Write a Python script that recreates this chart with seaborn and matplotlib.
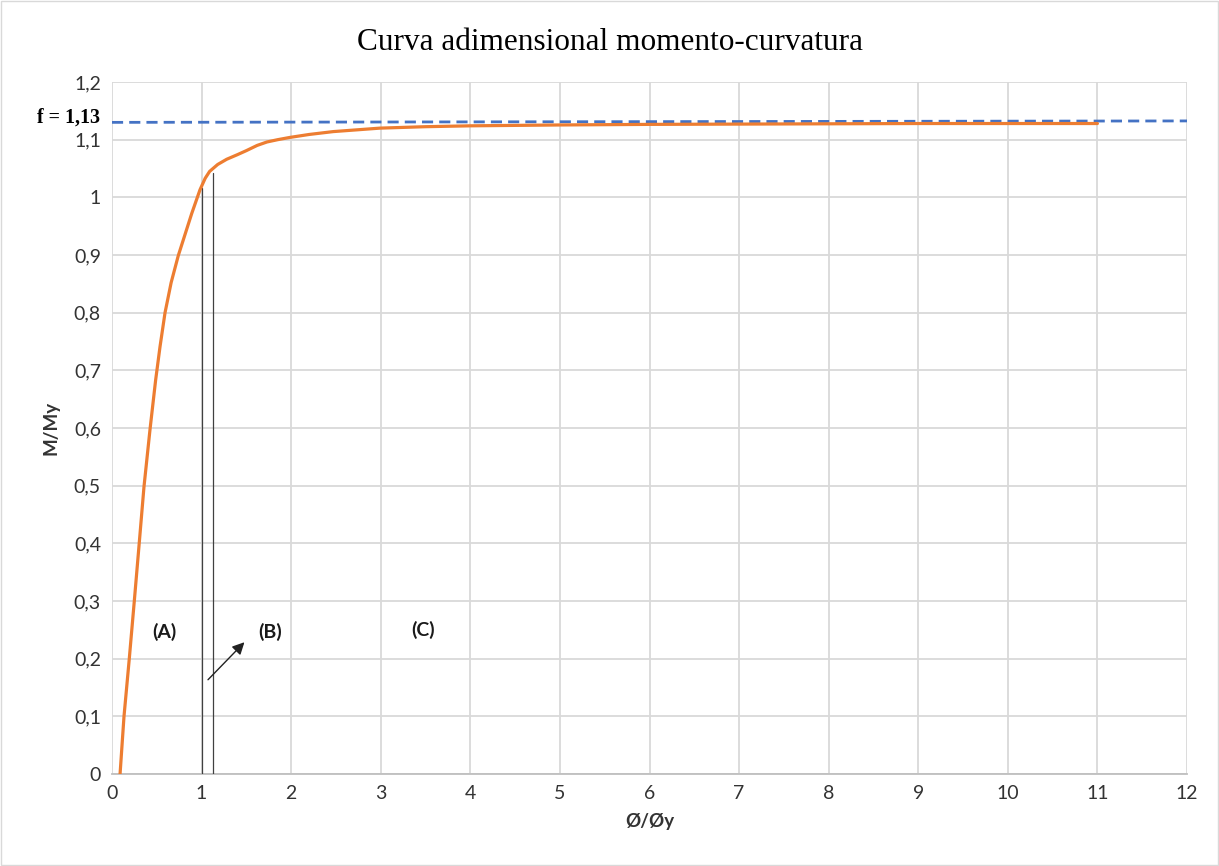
import matplotlib
matplotlib.use("Agg")
import matplotlib.pyplot as plt
import seaborn as sns
import pandas as pd
from matplotlib.ticker import MultipleLocator, FuncFormatter

# Data
phi = [0.09, 0.134, 0.193, 0.249, 0.30, 0.357, 0.424, 0.487, 0.536, 0.592, 0.66, 0.74,
       0.89, 0.982, 1.04, 1.09, 1.18, 1.28, 1.40, 1.50, 1.62, 1.73, 1.85, 1.99, 2.20, 2.47,
       2.99, 3.5, 4.0, 5.0, 6.0, 7.0, 8.0, 9.0, 10.0, 11.0]
moment = [0.0, 0.10, 0.20, 0.30, 0.393, 0.498, 0.597, 0.683, 0.741, 0.80, 0.852, 0.899,
          0.972, 1.013, 1.033, 1.045, 1.057, 1.066, 1.074, 1.081, 1.090, 1.096, 1.100, 1.104,
          1.109, 1.114, 1.120, 1.1225, 1.124, 1.1255, 1.1265, 1.127, 1.1275, 1.128, 1.128, 1.128]
f_value = 1.13
f_x = [0, 12]
limit_x = [1.0, 1.13]
limit_top = [1.016, 1.043]
region_labels = ["(A)", "(B)", "(C)"]
region_x = [0.59, 1.77, 3.47]
region_y = [0.246, 0.246, 0.25]
arrow_start = (1.05, 0.160)
arrow_end = (1.50, 0.232)

sns.set_theme(style="white")
plt.rcParams['font.family'] = ['Lato', 'DejaVu Sans']

fig = plt.figure(figsize=(12.19, 8.66), dpi=100)
ax = fig.add_axes([112/1219, 1-774/866, (1187-112)/1219, (774-82)/866])

df = pd.DataFrame({"phi": phi, "M": moment})
sns.lineplot(data=df, x="phi", y="M", ax=ax, color="#ED7D31", linewidth=2.3, zorder=4)
ax.plot(f_x, [f_value, f_value + 0.0025], color="#4472C4", linestyle=(0, (4, 2.2)), linewidth=2, zorder=3)

for xv, top in zip(limit_x, limit_top):
    ax.plot([xv, xv], [0, top], color="#404040", linewidth=0.9, zorder=3)

for lab, xv, yv in zip(region_labels, region_x, region_y):
    ax.text(xv, yv, lab, ha="center", va="center", fontsize=14, fontweight="bold", color="#1a1a1a")

ax.annotate("", xy=arrow_end, xytext=arrow_start,
            arrowprops=dict(arrowstyle="-|>", color="#222222", lw=1.0, mutation_scale=18))

ax.set_xlim(0, 12)
ax.set_ylim(0, 1.2)
ax.xaxis.set_major_locator(MultipleLocator(1))
ax.yaxis.set_major_locator(MultipleLocator(0.1))
ax.yaxis.set_major_formatter(FuncFormatter(lambda v, p: ("%g" % round(v, 1)).replace(".", ",")))
ax.grid(True, color="#D9D9D9", linewidth=1.3)
ax.set_axisbelow(True)
for s in ["top", "right", "left"]:
    ax.spines[s].set_visible(False)
ax.spines["bottom"].set_color("#BFBFBF")
ax.spines["bottom"].set_linewidth(1.3)
ax.tick_params(axis="both", length=0, labelsize=14, colors="#333333", pad=8)

ax.set_xlabel("Ø/Øy", fontsize=13.5, fontweight="bold", color="#333333", labelpad=8)
ax.set_ylabel("M/My", fontsize=13.5, fontweight="bold", color="#333333", labelpad=10)

fig.text(610/1219, 1-42/866, "Curva adimensional momento-curvatura", ha="center", va="center",
         fontsize=22.5, family=["Liberation Serif"], color="#000000")
fig.text(37/1219, 1-118/866, "f = 1,13", ha="left", va="center", fontsize=14.4,
         fontweight="bold", family=["Liberation Serif"], color="#000000")

border = plt.Rectangle((0.001, 0.001), 0.998, 0.998, transform=fig.transFigure, fill=False,
                       edgecolor="#D9D9D9", linewidth=1)
fig.patches.append(border)

fig.savefig("out.png", dpi=100)
